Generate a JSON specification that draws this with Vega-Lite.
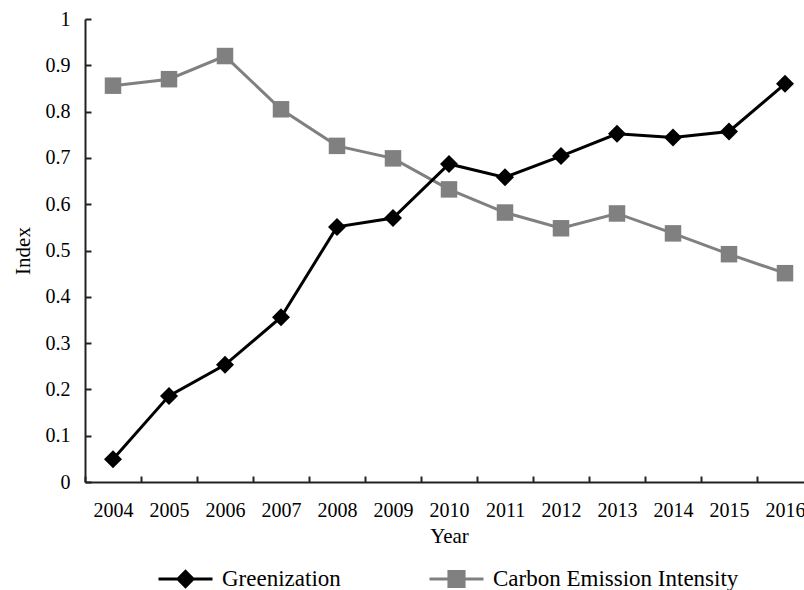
{
  "$schema": "https://vega.github.io/schema/vega-lite/v6.json",
  "autosize": {"type": "none"},
  "padding": {"left": 85, "top": 19, "right": 0, "bottom": 108},
  "width": 719,
  "height": 463,
  "background": "white",
  "config": {
    "view": {"stroke": null},
    "font": "Liberation Serif",
    "axis": {"grid": false, "labelFont": "Liberation Serif", "titleFont": "Liberation Serif", "labelColor": "#000000", "titleColor": "#000000", "titleFontWeight": "normal", "domainColor": "#222222", "tickColor": "#222222", "domainWidth": 2, "tickWidth": 2},
    "legend": {"labelFont": "Liberation Serif", "labelLimit": 500}
  },
  "data": {
    "values": [
      {"year": "2004", "series": "Greenization", "value": 0.049},
      {"year": "2005", "series": "Greenization", "value": 0.186},
      {"year": "2006", "series": "Greenization", "value": 0.253},
      {"year": "2007", "series": "Greenization", "value": 0.356},
      {"year": "2008", "series": "Greenization", "value": 0.551},
      {"year": "2009", "series": "Greenization", "value": 0.570},
      {"year": "2010", "series": "Greenization", "value": 0.687},
      {"year": "2011", "series": "Greenization", "value": 0.658},
      {"year": "2012", "series": "Greenization", "value": 0.704},
      {"year": "2013", "series": "Greenization", "value": 0.752},
      {"year": "2014", "series": "Greenization", "value": 0.744},
      {"year": "2015", "series": "Greenization", "value": 0.757},
      {"year": "2016", "series": "Greenization", "value": 0.860},
      {"year": "2004", "series": "Carbon Emission Intensity", "value": 0.856},
      {"year": "2005", "series": "Carbon Emission Intensity", "value": 0.870},
      {"year": "2006", "series": "Carbon Emission Intensity", "value": 0.920},
      {"year": "2007", "series": "Carbon Emission Intensity", "value": 0.805},
      {"year": "2008", "series": "Carbon Emission Intensity", "value": 0.726},
      {"year": "2009", "series": "Carbon Emission Intensity", "value": 0.699},
      {"year": "2010", "series": "Carbon Emission Intensity", "value": 0.632},
      {"year": "2011", "series": "Carbon Emission Intensity", "value": 0.582},
      {"year": "2012", "series": "Carbon Emission Intensity", "value": 0.548},
      {"year": "2013", "series": "Carbon Emission Intensity", "value": 0.580},
      {"year": "2014", "series": "Carbon Emission Intensity", "value": 0.537},
      {"year": "2015", "series": "Carbon Emission Intensity", "value": 0.492},
      {"year": "2016", "series": "Carbon Emission Intensity", "value": 0.451}
    ]
  },
  "encoding": {
    "x": {
      "field": "year", "type": "ordinal",
      "scale": {"type": "band", "paddingInner": 0, "paddingOuter": 0, "range": [0, 728]},
      "axis": {"title": "Year", "labelAngle": 0, "labelFontSize": 20, "titleFontSize": 21, "tickBand": "extent", "tickSize": -6, "labelPadding": 24, "titlePadding": 5}
    },
    "y": {
      "field": "value", "type": "quantitative",
      "scale": {"domain": [0, 1], "nice": false, "zero": true},
      "axis": {"title": "Index", "values": [0, 0.1, 0.2, 0.3, 0.4, 0.5, 0.6, 0.7, 0.8, 0.9, 1], "format": "~f", "labelFontSize": 20, "titleFontSize": 21, "tickSize": -6, "labelPadding": 21, "titlePadding": 12}
    },
    "color": {
      "field": "series", "type": "nominal",
      "scale": {"domain": ["Greenization", "Carbon Emission Intensity"], "range": ["#000000", "#808080"]},
      "legend": {
        "title": null, "orient": "none", "direction": "horizontal", "legendX": 72, "legendY": 531,
        "labelFont": "Liberation Serif", "labelFontSize": 23, "labelColor": "#000000", "labelLimit": 500,
        "symbolSize": 2916, "labelOffset": 8, "columnPadding": 82,
        "encode": {
          "symbols": {
            "update": {
              "shape": {"signal": "datum.value === 'Greenization' ? 'M-1,0H1M-0.28,0L0,-0.28L0.28,0L0,0.28Z' : 'M-1,0H1M-0.28,-0.28H0.28V0.28H-0.28Z'"},
              "size": {"value": 2916},
              "fill": {"signal": "datum.value === 'Greenization' ? '#000000' : '#808080'"},
              "stroke": {"signal": "datum.value === 'Greenization' ? '#000000' : '#808080'"},
              "strokeWidth": {"value": 3},
              "opacity": {"value": 1},
              "fillOpacity": {"value": 1}
            }
          }
        }
      }
    }
  },
  "layer": [
    {"transform": [{"filter": "datum.series === 'Carbon Emission Intensity'"}], "mark": {"type": "line", "strokeWidth": 3}},
    {"transform": [{"filter": "datum.series === 'Carbon Emission Intensity'"}], "mark": {"type": "point", "filled": true, "opacity": 1, "shape": "square", "size": 272}},
    {"transform": [{"filter": "datum.series === 'Greenization'"}], "mark": {"type": "line", "strokeWidth": 3}},
    {"transform": [{"filter": "datum.series === 'Greenization'"}], "mark": {"type": "point", "filled": true, "opacity": 1, "shape": "diamond", "size": 324}}
  ]
}
